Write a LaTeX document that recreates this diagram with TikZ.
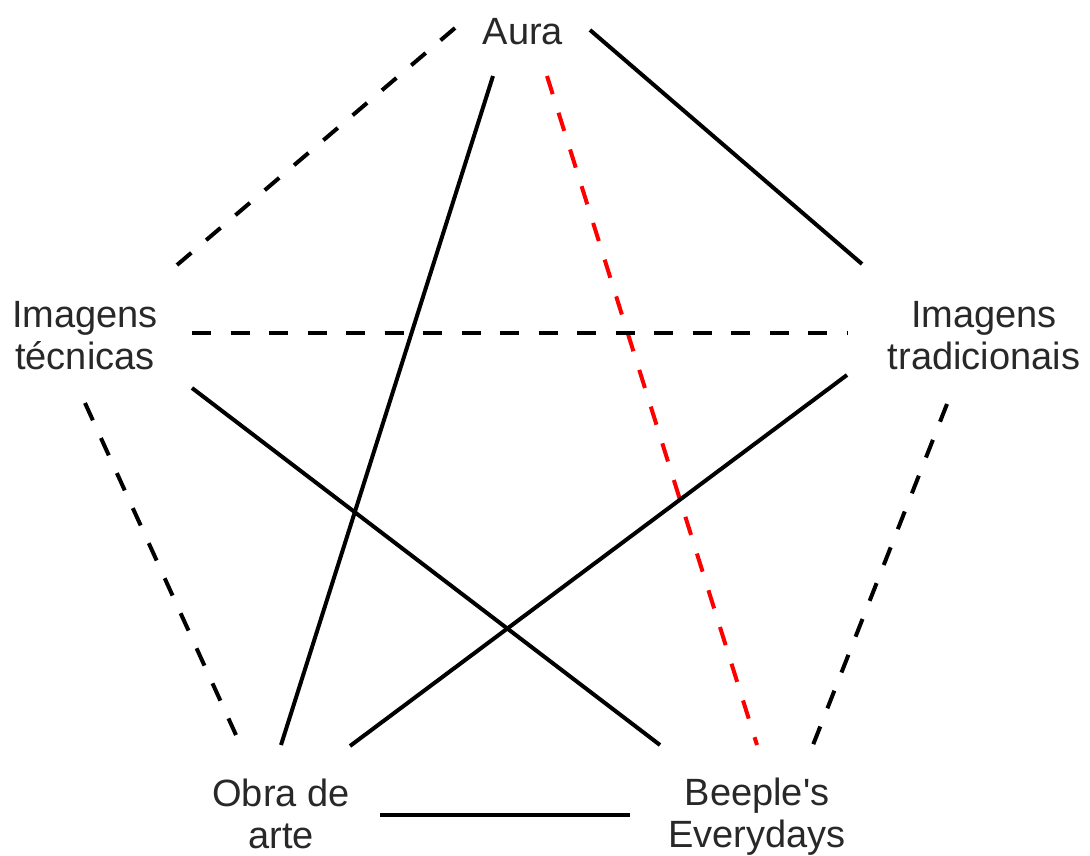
\documentclass[tikz,border=0pt]{standalone}
\usepackage{fontspec}
\setmainfont{Liberation Sans}
\definecolor{txt}{RGB}{40,40,40}
\definecolor{redline}{RGB}{255,0,0}
\tikzset{
  lbl/.style={anchor=north, inner sep=0pt, align=center, text=txt,
    font=\fontsize{38}{42}\selectfont},
  link/.style={line width=4pt, black},
  dlink/.style={line width=4pt, black, dash pattern=on 19pt off 19.5pt},
  rlink/.style={line width=4pt, redline, dash pattern=on 19pt off 19.5pt}
}
\begin{document}
\begin{tikzpicture}[x=1pt,y=-1pt]
\useasboundingbox (0,0) rectangle (1090,856);
% labels
\node[lbl] (aura) at (523,14.6) {\strut Aura};
\node[lbl] (tec) at (85,297.6) {\strut Imagens\\\strut técnicas};
\node[lbl] (trad) at (984,297.6) {\strut Imagens\\\strut tradicionais};
\node[lbl] (obra) at (281,776.6) {\strut Obra de\\\strut arte};
\node[lbl] (beeple) at (757,775.6) {\strut Beeple\textquotesingle s\\\strut Everydays};
% connector end points
\coordinate (aura-tec) at (455,28);
\coordinate (tec-aura) at (177,265);
\coordinate (aura-trad) at (590,30);
\coordinate (trad-aura) at (862,264);
\coordinate (aura-obra) at (493,76);
\coordinate (obra-aura) at (281,745);
\coordinate (aura-bee) at (547,76);
\coordinate (bee-aura) at (757,745);
\coordinate (tec-trad) at (192,333);
\coordinate (trad-tec) at (848,333);
\coordinate (tec-bee) at (192,388);
\coordinate (bee-tec) at (660,745);
\coordinate (trad-obra) at (847,375);
\coordinate (obra-trad) at (350,746);
\coordinate (tec-obra) at (85,403);
\coordinate (obra-tec) at (236,735);
\coordinate (trad-bee) at (947,404);
\coordinate (bee-trad) at (813,745);
\coordinate (obra-bee) at (380,815);
\coordinate (bee-obra) at (630,815);
% connectors
\draw[dlink] (aura-tec) -- (tec-aura);
\draw[link] (aura-trad) -- (trad-aura);
\draw[link] (aura-obra) -- (obra-aura);
\draw[rlink] (aura-bee) -- (bee-aura);
\draw[dlink] (tec-trad) -- (trad-tec);
\draw[link] (tec-bee) -- (bee-tec);
\draw[link] (trad-obra) -- (obra-trad);
\draw[dlink] (tec-obra) -- (obra-tec);
\draw[dlink] (trad-bee) -- (bee-trad);
\draw[link] (obra-bee) -- (bee-obra);
\end{tikzpicture}
\end{document}
